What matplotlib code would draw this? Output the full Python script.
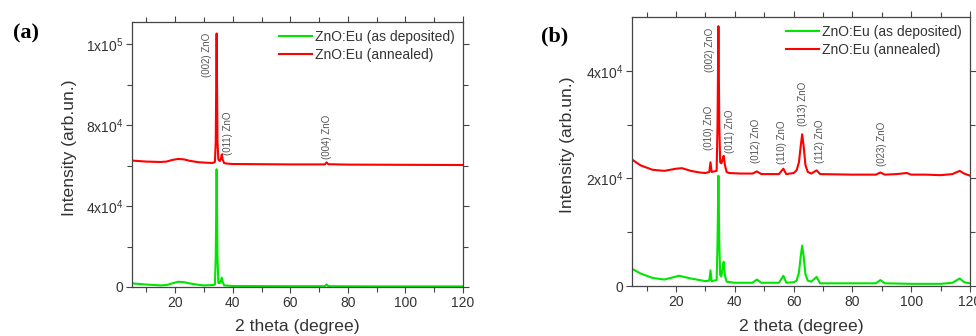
import numpy as np
import matplotlib
matplotlib.use('Agg')
import matplotlib.pyplot as plt
from matplotlib.ticker import FixedLocator, FixedFormatter, MultipleLocator

plt.rcParams['font.family'] = ['Liberation Sans', 'DejaVu Sans']
plt.rcParams['mathtext.fontset'] = 'custom'
plt.rcParams['mathtext.rm'] = 'Liberation Sans'

# panel (a) data, intensity in units of 1e3 counts
xa_red = [5, 10, 15, 17, 19, 21, 23, 25, 28, 30, 33, 33.8, 34.1, 34.4, 34.7, 35.0,
          35.5, 35.9, 36.2, 36.5, 37, 38, 40, 50, 60, 72, 72.6, 73.2, 80, 100, 120]
ya_red = [62.5, 62.0, 61.8, 62.0, 62.8, 63.3, 63.1, 62.4, 61.7, 61.5, 61.3, 61.8, 72,
          125.3, 72, 63, 62.3, 63.5, 65.5, 63, 61.3, 61, 60.8, 60.7, 60.6, 60.6, 61.6,
          60.7, 60.5, 60.4, 60.3]
xa_green = [5, 10, 15, 17, 19, 21, 23, 25, 28, 30, 33.5, 33.8, 34.1, 34.4, 34.7, 35.0,
            35.5, 35.9, 36.2, 36.5, 37, 40, 60, 72, 72.6, 73.2, 90, 120]
ya_green = [1.8, 1.2, 0.8, 1.0, 1.8, 2.6, 2.4, 1.8, 1.1, 0.8, 1.0, 1.2, 15, 58.2, 15,
            2.0, 2.0, 3.0, 4.6, 2.5, 0.8, 0.5, 0.4, 0.4, 1.3, 0.4, 0.3, 0.3]

# panel (b) data, intensity in units of 1e3 counts
xb_red = [5, 8, 12, 16, 20, 22, 25, 28, 30, 31.3, 31.7, 32.1, 33.8, 34.1, 34.4, 34.7,
          35.0, 35.4, 35.8, 36.2, 36.6, 37.2, 38, 42, 46, 47.5, 49, 55, 56.5, 57.5, 60,
          61, 61.8, 62.4, 62.9, 63.4, 64.0, 64.8, 66, 67.8, 69, 80, 88, 89.5, 91, 95,
          98.5, 100, 105, 110, 114, 116.5, 118, 120]
yb_red = [23.5, 22.4, 21.6, 21.4, 21.8, 21.9, 21.4, 21.1, 21.0, 21.2, 23.0, 21.2, 21.4,
          30, 48.3, 30, 23, 22.8, 23.5, 24.2, 22.5, 21.2, 21.0, 20.9, 20.9, 21.3, 20.8,
          20.8, 21.8, 20.8, 21, 21.5, 23, 26, 28.2, 26, 22.5, 21.2, 20.9, 21.5, 20.8,
          20.7, 20.7, 21.1, 20.7, 20.8, 21.0, 20.7, 20.7, 20.6, 20.8, 21.4, 20.9, 20.5]
xb_green = [5, 8, 12, 16, 21, 25, 30, 31.3, 31.7, 32.1, 33.8, 34.1, 34.4, 34.7, 35.0,
            35.4, 35.8, 36.2, 36.6, 37.2, 40, 46, 47.5, 49, 55, 56.5, 57.5, 60, 61, 61.8,
            62.4, 62.9, 63.4, 64.0, 64.8, 66, 67.8, 69, 80, 88, 89.5, 91, 100, 110, 114,
            116.5, 118, 120]
yb_green = [3.2, 2.3, 1.5, 1.2, 1.9, 1.4, 0.9, 1.0, 2.9, 0.9, 1.1, 8, 20.5, 8, 2.0, 1.8,
            3.2, 4.5, 2.0, 0.8, 0.6, 0.6, 1.2, 0.6, 0.6, 1.9, 0.6, 0.7, 1.0, 2.5, 5.5,
            7.5, 5.5, 2.2, 1.0, 0.8, 1.7, 0.5, 0.5, 0.5, 1.1, 0.5, 0.4, 0.4, 0.6, 1.4,
            0.7, 0.5]

# peak labels: (text, x, y bottom in 1e3)
peaks_a = [('(002) ZnO', 31.1, 104.0), ('(011) ZnO', 38.3, 65.2), ('(004) ZnO', 72.7, 63.2)]
peaks_b = [('(010) ZnO', 31.1, 25.2), ('(002) ZnO', 31.4, 39.8), ('(011) ZnO', 38.2, 24.7),
           ('(012) ZnO', 47.3, 22.8), ('(110) ZnO', 56.0, 22.6), ('(013) ZnO', 63.3, 29.7),
           ('(112) ZnO', 68.8, 22.8), ('(023) ZnO', 90.0, 22.3)]

yticks_a = [0, 40e3, 80e3, 120e3]
ylabels_a = ['0', r'4x10$^4$', r'8x10$^4$', r'1x10$^5$']
yticks_b = [0, 20e3, 40e3]
ylabels_b = ['0', r'2x10$^4$', r'4x10$^4$']

green = '#00e600'
red = '#ff0000'
txt = '#333333'

fig = plt.figure(figsize=(9.76, 3.36), dpi=100)
ax_a = fig.add_axes([132/976, 1 - 287/336, 331/976, 265/336])
ax_b = fig.add_axes([632/976, 1 - 286/336, 338/976, 269/336])


def style(ax, yticks, ylabels, ymax, minor_y, xlab_y, ylab_x, ylab_y):
    ax.set_xlim(5, 120)
    ax.set_ylim(0, ymax)
    ax.xaxis.set_major_locator(MultipleLocator(20))
    ax.xaxis.set_minor_locator(MultipleLocator(10))
    ax.yaxis.set_major_locator(FixedLocator(yticks))
    ax.yaxis.set_major_formatter(FixedFormatter(ylabels))
    ax.yaxis.set_minor_locator(FixedLocator(minor_y))
    ax.tick_params(which='both', direction='out', top=True, right=True,
                   labelsize=10, colors='#444444', labelcolor=txt, width=0.8)
    ax.tick_params(which='major', length=4.5, pad=2)
    ax.tick_params(which='minor', length=3.5)
    for s in ax.spines.values():
        s.set_color('#444444')
        s.set_linewidth(0.9)
    ax.set_xlabel('2 theta (degree)', fontsize=12.6, color=txt)
    ax.set_ylabel('Intensity (arb.un.)', fontsize=12.6, color=txt)
    ax.xaxis.set_label_coords(0.5, xlab_y)
    ax.yaxis.set_label_coords(ylab_x, ylab_y)
    leg = ax.legend(loc='upper right', frameon=False, fontsize=10, handlelength=2.4,
                    handletextpad=0.2, borderaxespad=0.2, labelspacing=0.25)
    for t in leg.get_texts():
        t.set_color(txt)


ax_a.plot(xa_green, np.array(ya_green) * 1e3, color=green, lw=1.5, label='ZnO:Eu (as deposited)')
ax_a.plot(xa_red, np.array(ya_red) * 1e3, color=red, lw=1.5, label='ZnO:Eu (annealed)')
for s, x, y in peaks_a:
    ax_a.text(x, y * 1e3, s, rotation=90, ha='center', va='bottom', fontsize=7, color='#555555')
style(ax_a, yticks_a, ylabels_a, 131e3, [20e3, 60e3, 100e3], -0.122, -0.166, 0.526)

ax_b.plot(xb_green, np.array(yb_green) * 1e3, color=green, lw=1.5, label='ZnO:Eu (as deposited)')
ax_b.plot(xb_red, np.array(yb_red) * 1e3, color=red, lw=1.5, label='ZnO:Eu (annealed)')
for s, x, y in peaks_b:
    ax_b.text(x, y * 1e3, s, rotation=90, ha='center', va='bottom', fontsize=7, color='#555555')
style(ax_b, yticks_b, ylabels_b, 50e3, [10e3, 30e3], -0.123, -0.169, 0.524)

fig.text(13/976, 1 - 33/336, '(a)', fontsize=16, fontweight='bold',
         family='Liberation Serif', va='center', ha='left')
fig.text(541/976, 1 - 36/336, '(b)', fontsize=16, fontweight='bold',
         family='Liberation Serif', va='center', ha='left')

fig.savefig('out.png', dpi=100)
